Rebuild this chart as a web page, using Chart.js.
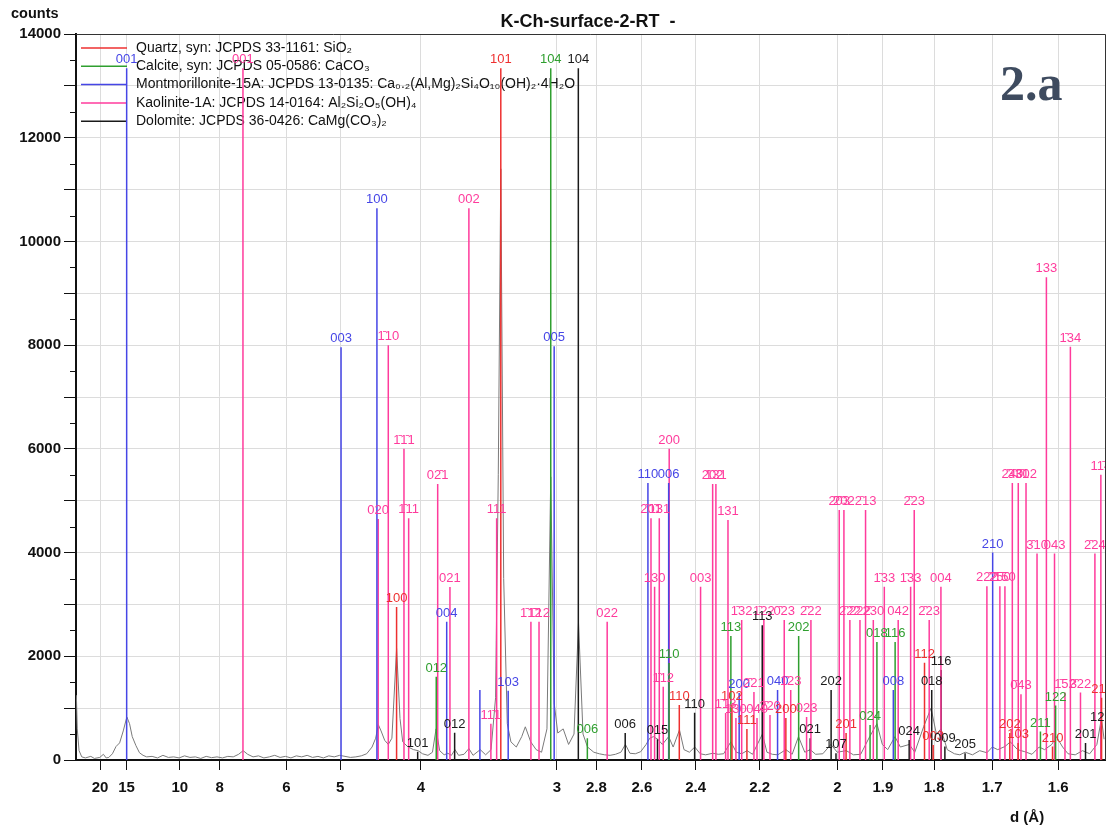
<!DOCTYPE html>
<html lang="en">
<head>
<meta charset="UTF-8">
<title>K-Ch-surface-2-RT</title>
<script src="https://cdn.jsdelivr.net/npm/chart.js"></script>
<style>
  html, body { margin: 0; padding: 0; background: #fff; }
  #wrap { width: 1108px; height: 829px; position: relative; }
</style>
</head>
<body>
<div id="wrap"><canvas id="xrd"></canvas></div>
<script>
// Cu K-alpha1, used to place the d-spacing ticks on the 2-theta axis
const LAMBDA = 1.5406;
const dTicks = [20, 15, 10, 8, 6, 5, 4, 3, 2.8, 2.6, 2.4, 2.2, 2, 1.9, 1.8, 1.7, 1.6];
const dTickLabels = ['20', '15', '10', '8', '6', '5', '4', '3', '2.8', '2.6', '2.4', '2.2', '2', '1.9', '1.8', '1.7', '1.6'];

// measured pattern: 2-theta (deg) and counts
const scanX = [3.10, 3.15, 3.25, 3.4, 3.6, 3.9, 4.1, 4.4, 4.6, 4.75, 4.9, 5.1, 5.3, 5.5, 5.7, 5.9, 6.05, 6.2, 6.4, 6.6,
  6.8, 7.0, 7.3, 7.6, 7.9, 8.2, 8.5, 8.8, 9.1, 9.4, 9.7, 10.0, 10.3, 10.6, 10.9, 11.2, 11.5, 11.8, 12.1, 12.35,
  12.6, 12.9, 13.2, 13.5, 13.8, 14.1, 14.4, 14.7, 15.0, 15.3, 15.6, 15.9, 16.2, 16.5, 16.8, 17.1, 17.4, 17.7, 18.0, 18.3,
  18.6, 18.9, 19.2, 19.5, 19.7, 19.85, 20.0, 20.2, 20.4, 20.6, 20.86, 21.05, 21.2, 21.5, 21.8, 22.05, 22.3, 22.6, 22.85, 23.05,
  23.25, 23.5, 23.7, 23.9, 24.1, 24.3, 24.6, 24.87, 25.1, 25.5, 25.8, 26.1, 26.35, 26.5, 26.64, 26.8, 27.0, 27.2, 27.5, 27.8,
  28.0, 28.3, 28.6, 28.9, 29.2, 29.41, 29.6, 29.8, 30.1, 30.4, 30.7, 30.95, 31.2, 31.45, 31.8, 32.1, 32.4, 32.7, 33.0, 33.3,
  33.55, 33.8, 34.1, 34.4, 34.7, 34.9, 35.1, 35.35, 35.6, 35.95, 36.2, 36.55, 36.8, 37.1, 37.4, 37.7, 38.0, 38.4, 38.7, 39.0,
  39.4, 39.7, 40.0, 40.3, 40.6, 41.15, 41.4, 41.7, 42.0, 42.45, 42.8, 43.15, 43.5, 43.8, 44.1, 44.5, 44.95, 45.3, 45.8, 46.2,
  46.6, 47.1, 47.5, 47.8, 48.1, 48.5, 48.8, 49.3, 49.6, 50.1, 50.5, 50.8, 51.05, 51.4, 51.8, 52.1, 52.4, 52.8, 53.2, 53.6,
  53.9, 54.2, 54.6, 54.9, 55.3, 55.7, 56.1, 56.5, 56.8, 57.2, 57.45, 57.8, 58.1, 58.5, 58.9, 59.3, 59.7, 59.95, 60.1];
const scanY = [1250, 600, 180, 60, 40, 70, 30, 50, 110, 40, 50, 120, 260, 330, 560, 830, 700, 450, 280, 140,
  90, 60, 70, 40, 90, 50, 60, 40, 80, 50, 60, 30, 70, 45, 60, 40, 70, 60, 110, 180,
  110, 60, 80, 40, 60, 90, 50, 70, 40, 80, 60, 90, 50, 70, 40, 80, 60, 90, 70, 50,
  60, 80, 120, 250, 420, 680, 560, 380, 300, 420, 2150, 800, 350, 250, 200, 180, 120, 90, 150, 600,
  180, 100, 130, 90, 200, 90, 110, 220, 90, 200, 100, 200, 1200, 5500, 11400, 3500, 700, 350, 250, 450,
  640, 350, 200, 150, 600, 5460, 1100, 520, 600, 300, 500, 2650, 500, 250, 150, 120, 100, 90, 110, 150,
  300, 130, 120, 160, 300, 420, 450, 400, 300, 450, 250, 580, 200, 150, 250, 120, 100, 130, 110, 120,
  350, 150, 120, 180, 110, 500, 150, 110, 100, 200, 110, 450, 150, 200, 110, 120, 300, 150, 180, 100,
  110, 450, 700, 300, 200, 450, 250, 300, 150, 650, 1000, 500, 600, 200, 120, 100, 150, 100, 180, 140,
  250, 200, 260, 350, 200, 160, 110, 250, 200, 300, 450, 250, 120, 100, 180, 120, 300, 800, 400];

// reference sticks: 2-theta, height in counts, hkl
const quartzX = [20.86, 26.64, 36.54, 39.46, 40.29, 42.45, 45.79, 50.14, 50.62, 54.87, 55.33, 57.24, 59.96];
const quartzI = [2950, 13340, 1060, 1060, 600, 810, 520, 1876, 290, 520, 330, 260, 1200];
const quartzHkl = ['100', '101', '110', '102', '111', '200', '201', '112', '003', '202', '103', '210', '211'];

const calciteX = [23.06, 29.41, 31.44, 35.97, 39.40, 43.16, 47.12, 47.50, 48.51, 56.57, 57.41];
const calciteI = [1606, 13340, 420, 1870, 2390, 2390, 675, 2275, 2275, 550, 1050];
const calciteHkl = ['012', '104', '006', '110', '113', '202', '024', '018', '116', '211', '122'];

const montX = [5.89, 17.78, 19.77, 23.64, 25.48, 27.05, 29.60, 34.80, 35.95, 39.86, 41.99, 48.41, 53.92];
const montI = [13340, 7960, 10640, 2667, 1350, 1336, 7980, 5340, 5340, 1290, 1350, 1350, 4000];
const montHkl = ['001', '003', '100', '004', '', '103', '005', '110', '006', '200', '040', '008', '210'];

const kaolX = [12.34, 19.84, 20.40, 21.27, 21.53, 23.14, 23.82, 24.87, 26.09, 26.41, 28.31, 28.76, 32.54,
  34.97, 35.17, 35.43, 35.65, 35.98, 37.72, 38.39, 38.57, 39.11, 39.24, 39.68, 40.00, 40.68, 40.85, 41.23,
  41.57, 42.36, 42.72, 43.60, 43.84, 45.41, 45.67, 46.00, 46.56, 46.87, 47.30, 47.91, 48.68, 49.37, 49.57,
  50.40, 51.05, 53.60, 54.32, 54.60, 55.01, 55.34, 55.49, 55.77, 56.38, 56.90, 57.35, 57.93, 58.23, 58.79,
  59.59, 59.92];
const kaolI = [13340, 4646, 8000, 6000, 4660, 5320, 3335, 10640, 700, 4660, 2667, 2667, 2667,
  4660, 3340, 4660, 1413, 6000, 3340, 5320, 5320, 906, 4630, 810, 2700, 1310, 810, 2700,
  870, 2700, 1350, 830, 2700, 4820, 4820, 2700, 2700, 4820, 2700, 3340, 2700, 3340, 4820,
  2700, 3340, 3350, 3350, 3350, 5340, 5340, 1270, 5340, 3980, 9310, 3980, 1300, 7970, 1300,
  3980, 5500];
const kaolHkl = ['001', '020', '1\u030410', '1\u03041\u03041', '1\u030411', '02\u03041', '021', '002', '11\u03041', '111', '1\u03041\u03042', '1\u030412', '022',
  '2\u030401', '130', '1\u030431', '1\u030412', '200', '003', '2\u030402', '13\u03041', '1\u030413', '131', '1\u030430', '1\u030432', '2\u030421', '040', '1\u030422',
  '2\u030420', '0\u030423', '1\u030423', '023', '2\u030422', '2\u030403', '2\u030402', '2\u030422', '2\u030422', '2\u030413', '2\u030430', '1\u030433', '042', '1\u030433', '2\u030423',
  '2\u030423', '004', '22\u03042', '2\u030450', '1\u030450', '2\u030440', '3\u030431', '0\u030443', '3\u030402', '3\u030410', '133', '043', '1\u030452', '1\u030434', '3\u030422',
  '2\u030424', '11\u03044'];

const dolomiteX = [22.03, 24.08, 30.94, 33.54, 35.33, 37.39, 41.14, 43.80, 44.96, 45.23, 49.29, 50.54, 51.06, 51.27, 52.39, 59.07, 59.92];
const dolomiteI = [160, 525, 13340, 520, 400, 910, 2600, 420, 1350, 130, 385, 1350, 1735, 260, 130, 330, 650];
const dolomiteHkl = ['101', '012', '104', '006', '015', '110', '113', '021', '202', '107', '024', '018', '116', '009', '205', '201', '122'];

const phaseNames = [
  'Quartz, syn: JCPDS 33-1161: SiO\u2082',
  'Calcite, syn: JCPDS 05-0586: CaCO\u2083',
  'Montmorillonite-15A: JCPDS 13-0135: Ca\u2080.\u2082(Al,Mg)\u2082Si\u2084O\u2081\u2080(OH)\u2082\u00b74H\u2082O',
  'Kaolinite-1A: JCPDS 14-0164: Al\u2082Si\u2082O\u2085(OH)\u2084',
  'Dolomite: JCPDS 36-0426: CaMg(CO\u2083)\u2082'
];
const phaseColors = ['#ee3030', '#2f9f2f', '#4646e6', '#ff3b9c', '#1a1a1a'];

const phases = [
  { x: quartzX, i: quartzI, hkl: quartzHkl },
  { x: calciteX, i: calciteI, hkl: calciteHkl },
  { x: montX, i: montI, hkl: montHkl },
  { x: kaolX, i: kaolI, hkl: kaolHkl },
  { x: dolomiteX, i: dolomiteI, hkl: dolomiteHkl }
];

function twoTheta(d) {
  return 2 * Math.asin(LAMBDA / (2 * d)) * 180 / Math.PI;
}

// each stick: from 0 up to its height, then a gap
function stickPoints(xs, hs) {
  const pts = [];
  xs.forEach((x, k) => {
    pts.push({ x: x, y: 0 }, { x: x, y: hs[k] }, { x: x, y: null });
  });
  return pts;
}

const FONT = '"Liberation Sans", Arial, Helvetica, sans-serif';

const datasets = phases.map((p, k) => ({
  label: phaseNames[k],
  data: stickPoints(p.x, p.i),
  showLine: true,
  spanGaps: false,
  borderColor: phaseColors[k],
  backgroundColor: phaseColors[k],
  borderWidth: 1.5,
  pointRadius: 0,
  order: 1
}));
datasets.push({
  label: 'scan',
  data: scanX.map((x, k) => ({ x: x, y: scanY[k] })),
  showLine: true,
  borderColor: '#7a7a7a',
  borderWidth: 1,
  pointRadius: 0,
  order: 10
});

const extras = {
  id: 'extras',
  beforeDatasetsDraw(chart) {
    // legend inside the plot, drawn under the sticks
    const { ctx } = chart;
    ctx.save();
    ctx.font = '14px ' + FONT;
    ctx.textAlign = 'left';
    ctx.textBaseline = 'middle';
    ctx.lineWidth = 1.5;
    phaseNames.forEach((name, k) => {
      const ly = 48 + k * 18.3;
      ctx.strokeStyle = phaseColors[k];
      ctx.beginPath();
      ctx.moveTo(81, ly);
      ctx.lineTo(127, ly);
      ctx.stroke();
      ctx.fillStyle = '#111';
      ctx.fillText(name, 136, ly);
    });
    ctx.restore();
  },
  afterDatasetsDraw(chart) {
    const { ctx, chartArea: a, scales } = chart;
    const xs = scales.x, ys = scales.y;
    ctx.save();
    // hkl labels above each stick
    ctx.beginPath();
    ctx.rect(a.left, 0, a.right - a.left, a.bottom);
    ctx.clip();
    ctx.font = '13px ' + FONT;
    ctx.textAlign = 'center';
    ctx.textBaseline = 'bottom';
    phases.forEach((p, k) => {
      ctx.fillStyle = phaseColors[k];
      p.x.forEach((v, j) => {
        if (!p.hkl[j]) return;
        ctx.fillText(p.hkl[j], xs.getPixelForValue(v), ys.getPixelForValue(p.i[j]) - 2);
      });
    });
    ctx.restore();

    ctx.save();
    // frame top / right
    ctx.strokeStyle = '#333';
    ctx.lineWidth = 1;
    ctx.beginPath();
    ctx.moveTo(a.left, a.top + 0.5);
    ctx.lineTo(a.right + 0.5, a.top + 0.5);
    ctx.lineTo(a.right + 0.5, a.bottom);
    ctx.stroke();
    // minor y ticks
    ctx.strokeStyle = '#111';
    for (let v = 500; v < 14000; v += 1000) {
      const py = Math.round(ys.getPixelForValue(v)) + 0.5;
      ctx.beginPath();
      ctx.moveTo(a.left - 6, py);
      ctx.lineTo(a.left, py);
      ctx.stroke();
    }
    // texts
    ctx.fillStyle = '#111';
    ctx.font = 'bold 14.5px ' + FONT;
    ctx.textAlign = 'left';
    ctx.textBaseline = 'middle';
    ctx.fillText('counts', 11, 14);
    ctx.font = 'bold 15px ' + FONT;
    ctx.fillText('d (\u00c5)', 1010, 818);
    ctx.font = 'bold 18px ' + FONT;
    ctx.textAlign = 'center';
    ctx.fillText('K-Ch-surface-2-RT  -', 588, 22);
    ctx.fillStyle = '#3e4b5f';
    ctx.font = 'bold 50px "Liberation Serif", "DejaVu Serif", serif';
    ctx.textAlign = 'left';
    ctx.textBaseline = 'alphabetic';
    ctx.fillText('2.a', 1000, 100);
    ctx.restore();
  }
};

new Chart(document.getElementById('xrd'), {
  type: 'scatter',
  data: { datasets: datasets },
  options: {
    responsive: true,
    maintainAspectRatio: false,
    animation: false,
    layout: { padding: { top: 34, right: 3, left: 0, bottom: 0 } },
    plugins: {
      tooltip: { enabled: false },
      title: { display: false },
      legend: { display: false }
    },
    scales: {
      x: {
        type: 'linear',
        min: 3.08,
        max: 60.15,
        afterBuildTicks: s => { s.ticks = dTicks.map(d => ({ value: twoTheta(d) })); },
        afterFit: s => { s.height = 69; },
        ticks: {
          autoSkip: false,
          maxRotation: 0,
          padding: 9,
          color: '#111',
          font: { family: FONT, size: 15, weight: 'bold' },
          callback: (v, i) => dTickLabels[i]
        },
        grid: { color: '#dcdcdc', tickColor: '#111', tickLength: 10, lineWidth: 1 },
        border: { color: '#111', width: 2 }
      },
      y: {
        min: 0,
        max: 14000,
        afterFit: s => { s.width = 76; },
        ticks: {
          stepSize: 1000,
          padding: 3,
          color: '#111',
          font: { family: FONT, size: 15, weight: 'bold' },
          callback: v => (v % 2000 === 0 ? String(v) : '')
        },
        grid: { color: '#dcdcdc', tickColor: '#111', tickLength: 12, lineWidth: 1 },
        border: { color: '#111', width: 2 }
      }
    }
  },
  plugins: [extras]
});
</script>
</body>
</html>
